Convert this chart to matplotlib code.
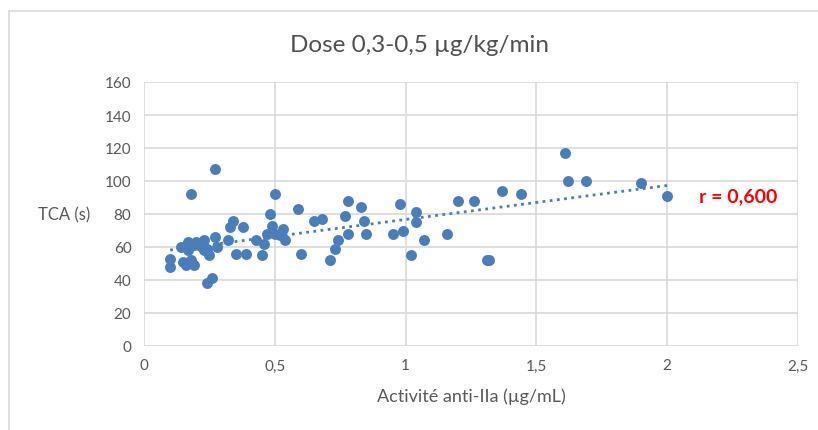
import numpy as np
import matplotlib
matplotlib.use('Agg')
import matplotlib.pyplot as plt
from matplotlib.lines import Line2D

plt.rcParams['font.family'] = ['Lato', 'DejaVu Sans']

# Activité anti-IIa (µg/mL) vs TCA (s)
anti_iia = [0.10, 0.10, 0.14, 0.17, 0.18, 0.17, 0.15, 0.16, 0.19, 0.18,
            0.27, 0.23, 0.22, 0.24, 0.25, 0.27, 0.28, 0.22, 0.21, 0.24,
            0.26, 0.32, 0.33, 0.34, 0.35, 0.38, 0.39, 0.43, 0.46, 0.45,
            0.48, 0.47, 0.50, 0.49, 0.50, 0.53, 0.52, 0.54, 0.59, 0.60,
            0.65, 0.68, 0.71, 0.73, 0.74, 0.77, 0.78, 0.78, 0.83, 0.84,
            0.85, 0.95, 0.98, 0.99, 1.02, 1.04, 1.04, 1.07, 1.16, 1.20,
            1.26, 1.31, 1.32, 1.37, 1.44, 1.61, 1.62, 1.69, 1.90, 2.00,
            0.19, 0.20, 0.23]
tca = [53, 48, 60, 63, 92, 58, 51, 49, 49, 52,
       107, 64, 62, 59, 55, 66, 60, 60, 61, 38,
       41, 64, 72, 76, 56, 72, 56, 64, 62, 55,
       80, 68, 92, 73, 68, 71, 67, 64, 83, 56,
       76, 77, 52, 59, 64, 79, 88, 68, 84, 76,
       68, 68, 86, 70, 55, 81, 75, 64, 68, 88,
       88, 52, 52, 94, 92, 117, 100, 100, 99, 91,
       61, 63, 58]

x_ticks = [0, 0.5, 1, 1.5, 2, 2.5]
x_tick_labels = ['0', '0,5', '1', '1,5', '2', '2,5']
y_ticks = [0, 20, 40, 60, 80, 100, 120, 140, 160]

blue = '#4a7ebb'
grey = '#595959'

fig = plt.figure(figsize=(8.18, 4.31), dpi=100)
ax = fig.add_axes([144 / 818, 1 - 347 / 431, (798 - 144) / 818, (347 - 83) / 431])

ax.scatter(anti_iia, tca, s=62, color=blue, zorder=3, linewidths=0)

# linear trend line
p = np.polyfit(anti_iia, tca, 1)
xs = np.array([min(anti_iia), max(anti_iia)])
ax.plot(xs, np.polyval(p, xs), linestyle=(0, (1, 1.6)), color=blue, linewidth=2, zorder=2)

ax.set_xlim(0, 2.5)
ax.set_ylim(0, 160)
ax.set_xticks(x_ticks)
ax.set_xticklabels(x_tick_labels)
ax.set_yticks(y_ticks)
ax.grid(True, color='#d9d9d9', linewidth=1.2)
ax.set_axisbelow(True)
for s in ax.spines.values():
    s.set_visible(False)
ax.tick_params(length=0, colors=grey, labelsize=11, pad=9)

ax.set_xlabel('Activité anti-IIa (µg/mL)', color=grey, fontsize=13, labelpad=11)
fig.text(38 / 818, 1 - 215 / 431, 'TCA (s)', color=grey, fontsize=12, va='center', ha='left')
fig.text(420 / 818, 1 - 45 / 431, 'Dose 0,3-0,5 µg/kg/min', color='#505050', fontsize=17.5,
         ha='center', va='center')
ax.text(2.12, 91, 'r = 0,600', color='#ff0000', fontsize=14, fontweight='bold',
        ha='left', va='center')

# chart area border
fig.add_artist(Line2D([9 / 818, 9 / 818], [0, 1 - 12 / 431], color='#d9d9d9', linewidth=1.2,
                      transform=fig.transFigure))
fig.add_artist(Line2D([9 / 818, 1], [1 - 12 / 431, 1 - 12 / 431], color='#d9d9d9', linewidth=1.2,
                      transform=fig.transFigure))

fig.savefig('out.png', dpi=100)
